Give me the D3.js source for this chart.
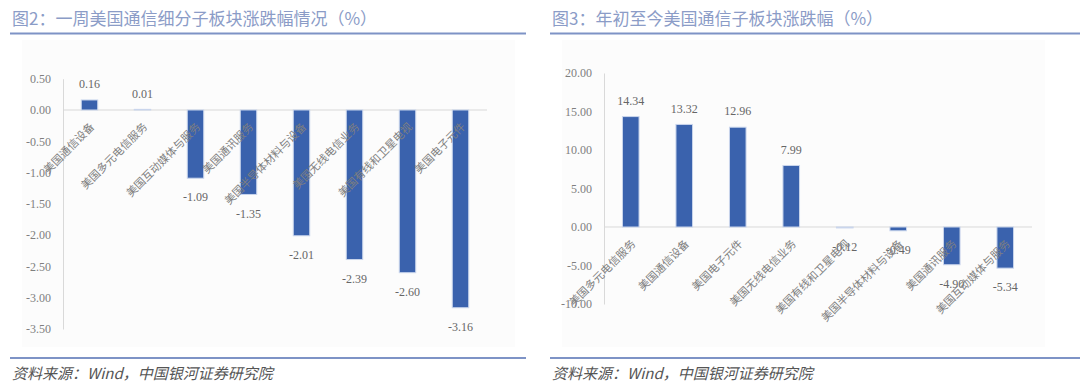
<!DOCTYPE html>
<html>
<head>
<meta charset="utf-8">
<script src="https://cdn.jsdelivr.net/npm/d3@7"></script>
<style>
  body { margin: 0; background: #fff; }
  svg { display: block; }
</style>
</head>
<body>
<div id="chart"></div>
<script>
// 图2 一周
var weekCats = ["美国通信设备", "美国多元电信服务", "美国互动媒体与服务", "美国通讯服务",
  "美国半导体材料与设备", "美国无线电信业务", "美国有线和卫星电视", "美国电子元件"];
var weekVals = [0.16, 0.01, -1.09, -1.35, -2.01, -2.39, -2.60, -3.16];
var weekTicks = [0.5, 0, -0.5, -1, -1.5, -2, -2.5, -3, -3.5];

// 图3 年初至今
var ytdCats = ["美国多元电信服务", "美国通信设备", "美国电子元件", "美国无线电信业务",
  "美国有线和卫星电视", "美国半导体材料与设备", "美国通讯服务", "美国互动媒体与服务"];
var ytdVals = [14.34, 13.32, 12.96, 7.99, -0.12, -0.49, -4.90, -5.34];
var ytdTicks = [20, 15, 10, 5, 0, -5, -10];

var svg = d3.select("#chart").append("svg")
  .attr("width", 1080)
  .attr("height", 390);

var cjk = "'Noto Sans CJK SC', 'Noto Sans', sans-serif";
var serif = "'Liberation Serif', 'DejaVu Serif', serif";
var barColor = "#3a62ad";

// plain hyphen for negatives, like the source
var fmt = d3.formatLocale({
  decimal: ".", thousands: ",", grouping: [3], currency: ["", ""], minus: "-"
}).format(".2f");

function panel(opt) {
  var g = svg.append("g");

  g.append("text")
    .attr("x", opt.left + 2)
    .attr("y", 25)
    .attr("font-family", cjk)
    .attr("font-size", 17)
    .attr("fill", "#8b9cc7")
    .text(opt.title);

  g.append("line")
    .attr("x1", opt.left).attr("x2", opt.right)
    .attr("y1", 33.5).attr("y2", 33.5)
    .attr("stroke", "#7e93c6").attr("stroke-width", 2);

  g.append("rect")
    .attr("x", opt.bgX).attr("y", 40)
    .attr("width", opt.bgW).attr("height", 307)
    .attr("fill", "#fcfcfc");

  var x = d3.scaleBand()
    .domain(opt.cats)
    .range(opt.xRange)
    .paddingInner(0.69)
    .paddingOuter(0.345);

  var y = d3.scaleLinear()
    .domain(opt.yDomain)
    .range(opt.yRange);

  var yAxis = g.append("g")
    .attr("transform", "translate(" + opt.xRange[0] + ",0)")
    .call(d3.axisLeft(y)
      .tickValues(opt.ticks)
      .tickFormat(fmt)
      .tickSizeInner(0)
      .tickSizeOuter(0)
      .tickPadding(12));
  yAxis.select(".domain").attr("stroke", "#d9d9d9");
  yAxis.selectAll("text")
    .attr("font-family", serif)
    .attr("font-size", 12)
    .attr("fill", "#7f7f7f");

  g.append("line")
    .attr("x1", opt.xRange[0]).attr("x2", opt.xRange[1])
    .attr("y1", y(0)).attr("y2", y(0))
    .attr("stroke", "#d9d9d9");

  var data = opt.cats.map(function(c, i) { return { cat: c, val: opt.vals[i] }; });

  g.selectAll(".bar").data(data).enter()
    .append("rect")
    .attr("class", "bar")
    .attr("x", function(d) { return x(d.cat); })
    .attr("width", x.bandwidth())
    .attr("y", function(d) { return y(Math.max(0, d.val)); })
    .attr("height", function(d) { return Math.abs(y(d.val) - y(0)); })
    .attr("fill", barColor)
    .attr("stroke", "#c9d5ec")
    .attr("stroke-width", 1);

  g.selectAll(".val").data(data).enter()
    .append("text")
    .attr("class", "val")
    .attr("x", function(d) { return x(d.cat) + x.bandwidth() / 2; })
    .attr("y", function(d) { return d.val >= 0 ? y(d.val) - 16 : y(d.val) + 19; })
    .attr("dy", "0.35em")
    .attr("text-anchor", "middle")
    .attr("font-family", serif)
    .attr("font-size", 12)
    .attr("fill", "#666")
    .text(function(d) { return fmt(d.val); });

  g.selectAll(".cat").data(data).enter()
    .append("text")
    .attr("class", "cat")
    .attr("transform", function(d) {
      return "translate(" + (x(d.cat) + x.bandwidth() / 2 + 2) + "," + (y(0) + 14) + ") rotate(-45)";
    })
    .attr("dominant-baseline", "central")
    .attr("text-anchor", "end")
    .attr("font-family", cjk)
    .attr("font-size", 11)
    .attr("fill", "#7f7f7f")
    .text(function(d) { return d.cat; });

  g.append("line")
    .attr("x1", opt.left).attr("x2", opt.right)
    .attr("y1", 358).attr("y2", 358)
    .attr("stroke", "#7e93c6").attr("stroke-width", 2);

  g.append("text")
    .attr("x", opt.left + 2)
    .attr("y", 379)
    .attr("font-family", cjk)
    .attr("font-style", "italic")
    .attr("font-size", 15)
    .attr("fill", "#555")
    .text("资料来源：Wind，中国银河证券研究院");
}

panel({
  title: "图2：一周美国通信细分子板块涨跌幅情况（%）",
  left: 10, right: 526,
  bgX: 22, bgW: 493,
  cats: weekCats, vals: weekVals, ticks: weekTicks,
  xRange: [63, 487],
  yDomain: [-3.5, 0.5],
  yRange: [329, 78.7]
});

panel({
  title: "图3：年初至今美国通信子板块涨跌幅（%）",
  left: 550, right: 1080,
  bgX: 562, bgW: 483,
  cats: ytdCats, vals: ytdVals, ticks: ytdTicks,
  xRange: [604, 1032],
  yDomain: [-10, 20],
  yRange: [304, 73]
});
</script>
</body>
</html>
